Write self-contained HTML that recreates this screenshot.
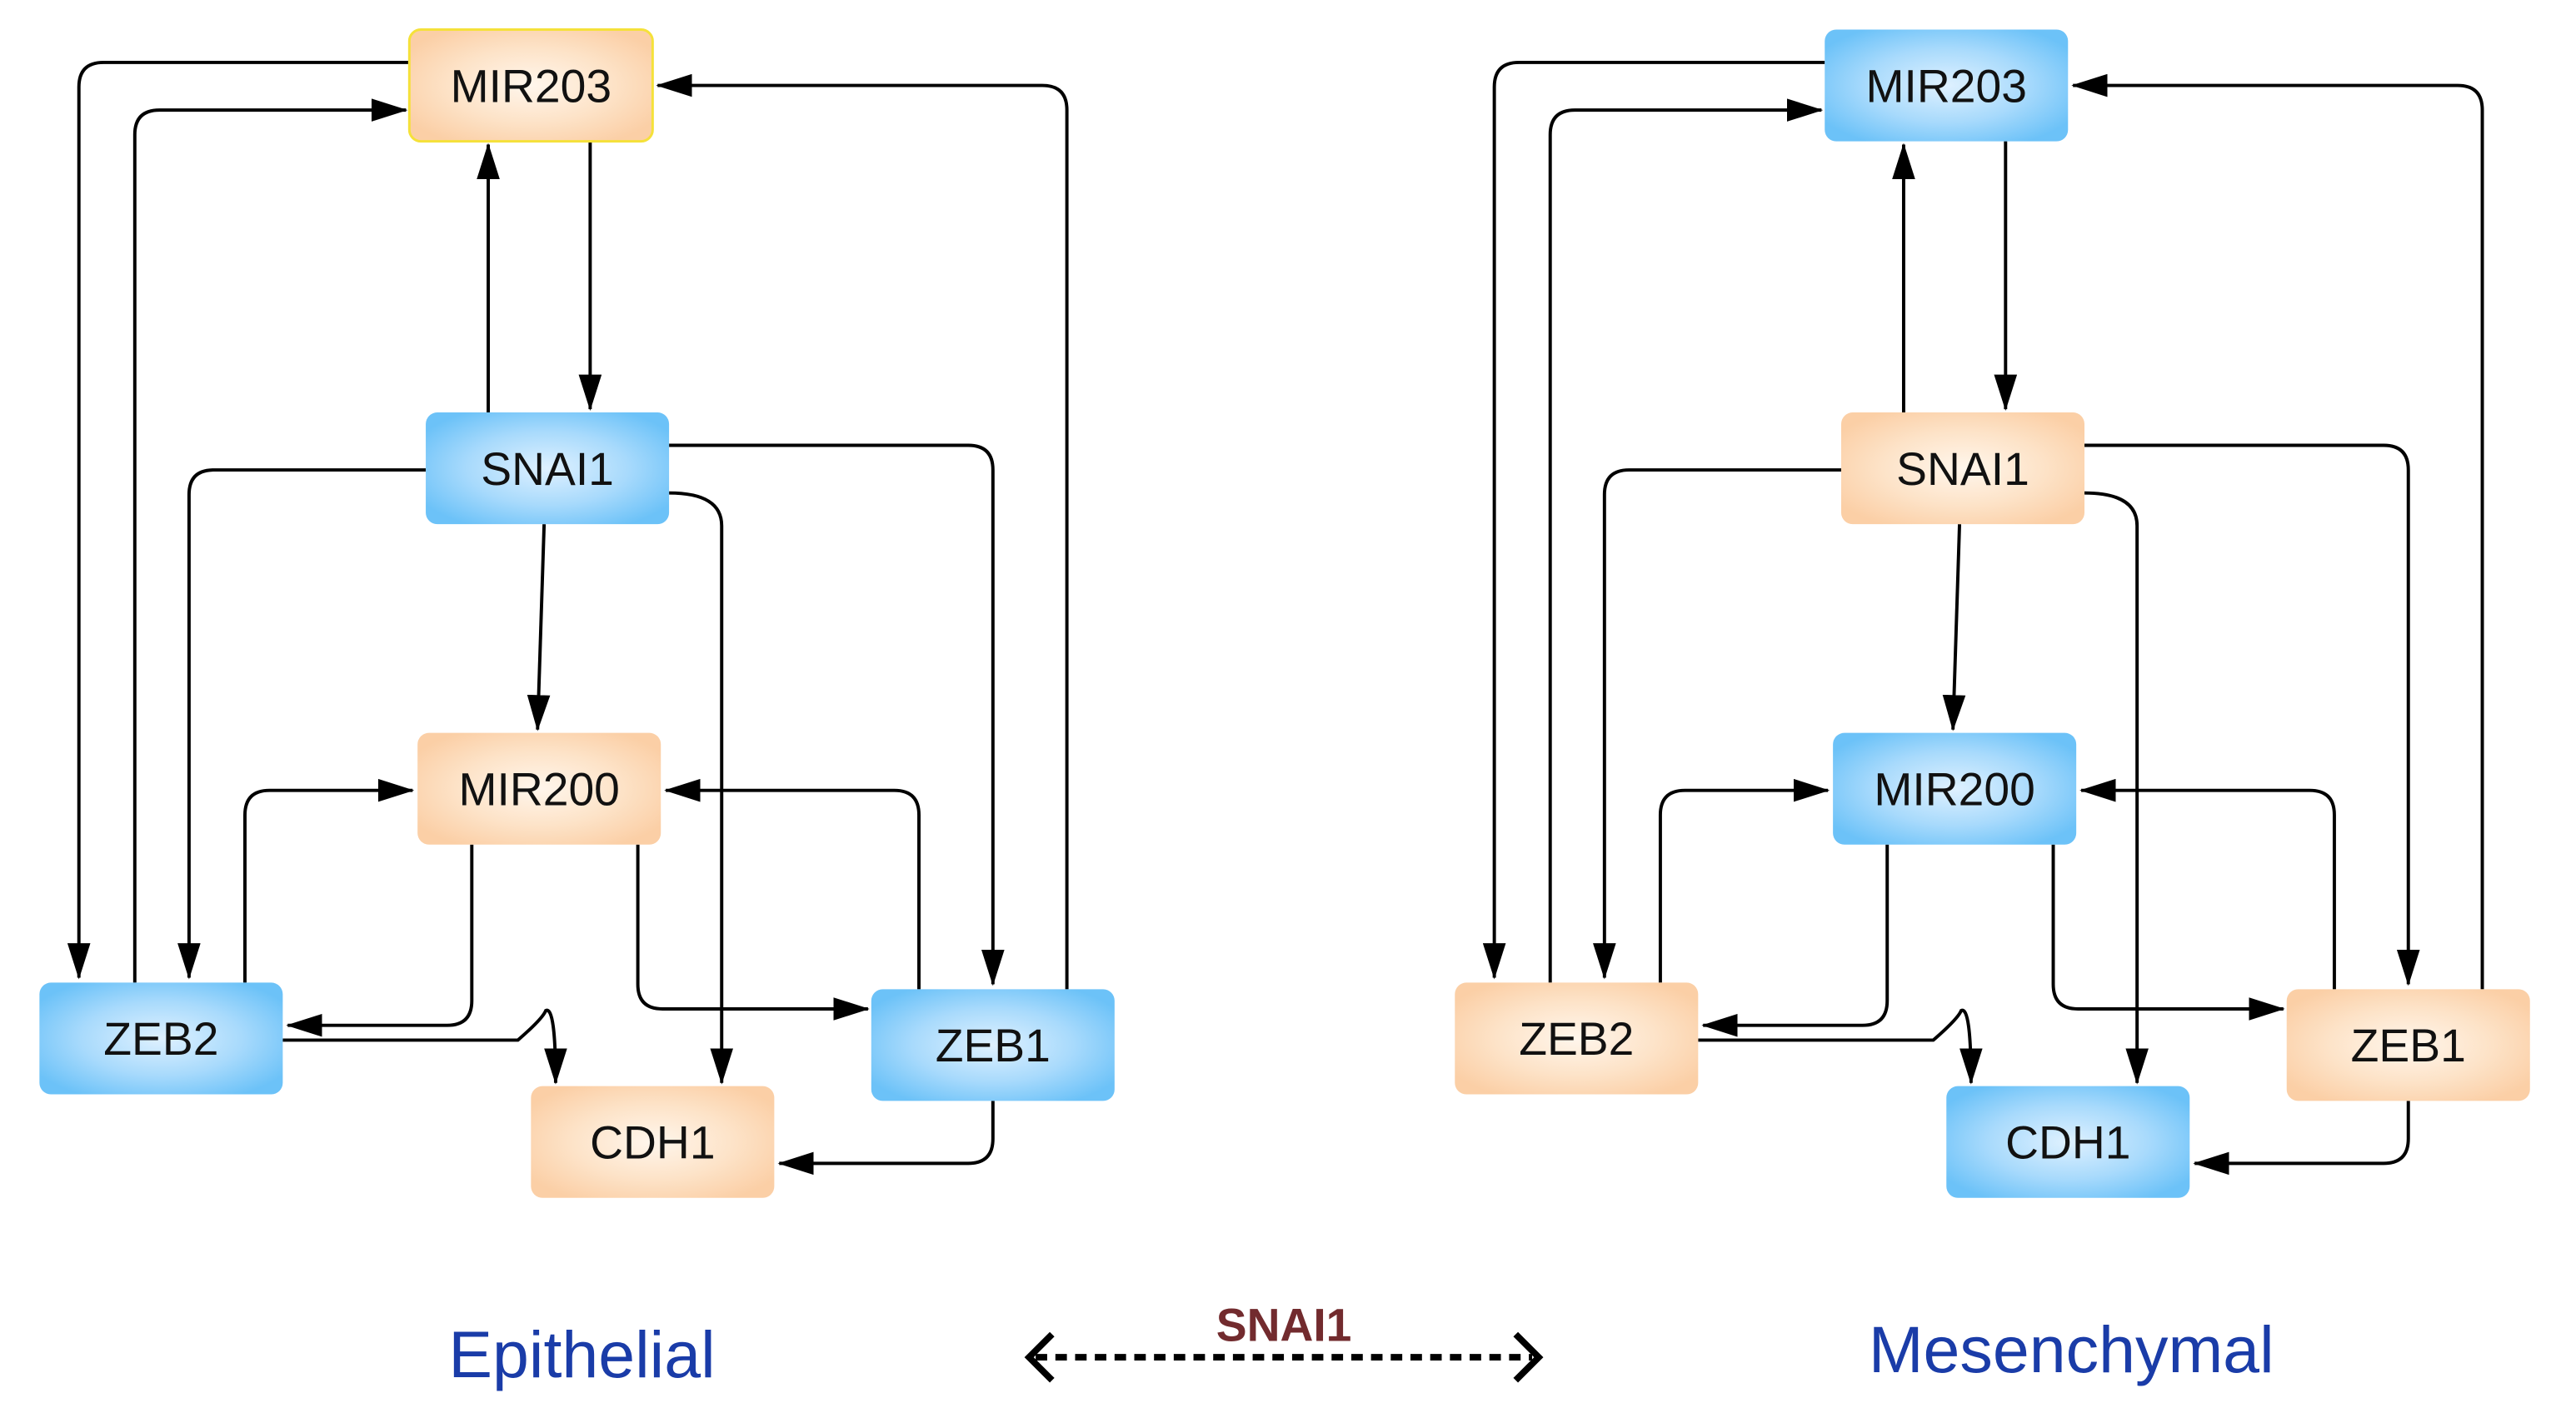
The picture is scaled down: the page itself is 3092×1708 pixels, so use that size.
<!DOCTYPE html>
<html><head><meta charset="utf-8"><style>html,body{margin:0;padding:0;background:#fff}svg{display:block}</style></head>
<body>
<svg width="3092" height="1708" viewBox="0 0 1567 866" preserveAspectRatio="none" xmlns="http://www.w3.org/2000/svg">
<defs>
<radialGradient id="b" cx="50%" cy="50%" r="60%"><stop offset="0" stop-color="#dff1ff"/><stop offset="0.55" stop-color="#a8dafc"/><stop offset="1" stop-color="#6cc2f8"/></radialGradient>
<radialGradient id="o" cx="50%" cy="50%" r="60%"><stop offset="0" stop-color="#fff6ec"/><stop offset="0.55" stop-color="#fde3c8"/><stop offset="1" stop-color="#fbcfa6"/></radialGradient>
<marker id="a" viewBox="0 0 22 14" refX="21" refY="7" markerWidth="22" markerHeight="14" markerUnits="userSpaceOnUse" orient="auto"><path d="M0,0 L22,7 L0,14 z" fill="#000"/></marker>
</defs>
<g fill="none" stroke="#000" stroke-width="2" marker-end="url(#a)">
<path d="M249,38 H63 Q48,38 48,53 V595"/>
<path d="M82,598 V82 Q82,67 97,67 H247"/>
<path d="M649,602 V67 Q649,52 634,52 H400"/>
<path d="M297,251 V88"/>
<path d="M359,86 V249"/>
<path d="M259,286 H130 Q115,286 115,301 V595"/>
<path d="M407,271 H589 Q604,271 604,286 V599"/>
<path d="M407,300 Q439,300 439,320 V659"/>
<path d="M331,319 L327,444"/>
<path d="M149,598 V496 Q149,481 164,481 H251"/>
<path d="M559,602 V496 Q559,481 544,481 H405"/>
<path d="M287,514 V609 Q287,624 272,624 H175"/>
<path d="M388,514 V599 Q388,614 403,614 H528"/>
<path d="M172,633 H315 Q330,620 332,615 Q338,612 338,659"/>
<path d="M604,670 V693 Q604,708 589,708 H474"/>
</g>
<g fill="none" stroke="#000" stroke-width="2" marker-end="url(#a)" transform="translate(861,0)">
<path d="M249,38 H63 Q48,38 48,53 V595"/>
<path d="M82,598 V82 Q82,67 97,67 H247"/>
<path d="M649,602 V67 Q649,52 634,52 H400"/>
<path d="M297,251 V88"/>
<path d="M359,86 V249"/>
<path d="M259,286 H130 Q115,286 115,301 V595"/>
<path d="M407,271 H589 Q604,271 604,286 V599"/>
<path d="M407,300 Q439,300 439,320 V659"/>
<path d="M331,319 L327,444"/>
<path d="M149,598 V496 Q149,481 164,481 H251"/>
<path d="M559,602 V496 Q559,481 544,481 H405"/>
<path d="M287,514 V609 Q287,624 272,624 H175"/>
<path d="M388,514 V599 Q388,614 403,614 H528"/>
<path d="M172,633 H315 Q330,620 332,615 Q338,612 338,659"/>
<path d="M604,670 V693 Q604,708 589,708 H474"/>
</g>
<g font-family="Liberation Sans, sans-serif" font-size="28" text-anchor="middle" fill="#111">
<rect x="249" y="18" width="148" height="68" rx="7" fill="url(#o)" stroke="#f5e13a" stroke-width="1.5"/><text x="323" y="62">MIR203</text>
<rect x="259" y="251" width="148" height="68" rx="7" fill="url(#b)"/><text x="333" y="295">SNAI1</text>
<rect x="254" y="446" width="148" height="68" rx="7" fill="url(#o)"/><text x="328" y="490">MIR200</text>
<rect x="24" y="598" width="148" height="68" rx="7" fill="url(#b)"/><text x="98" y="642">ZEB2</text>
<rect x="530" y="602" width="148" height="68" rx="7" fill="url(#b)"/><text x="604" y="646">ZEB1</text>
<rect x="323" y="661" width="148" height="68" rx="7" fill="url(#o)"/><text x="397" y="705">CDH1</text>

<rect x="1110" y="18" width="148" height="68" rx="7" fill="url(#b)"/><text x="1184" y="62">MIR203</text>
<rect x="1120" y="251" width="148" height="68" rx="7" fill="url(#o)"/><text x="1194" y="295">SNAI1</text>
<rect x="1115" y="446" width="148" height="68" rx="7" fill="url(#b)"/><text x="1189" y="490">MIR200</text>
<rect x="885" y="598" width="148" height="68" rx="7" fill="url(#o)"/><text x="959" y="642">ZEB2</text>
<rect x="1391" y="602" width="148" height="68" rx="7" fill="url(#o)"/><text x="1465" y="646">ZEB1</text>
<rect x="1184" y="661" width="148" height="68" rx="7" fill="url(#b)"/><text x="1258" y="705">CDH1</text>
</g>
<g font-family="Liberation Sans, sans-serif" text-anchor="middle">
<text x="354" y="838" font-size="40" fill="#1a3ca8">Epithelial</text>
<text x="1260" y="835" font-size="40" fill="#1a3ca8">Mesenchymal</text>
<text x="781" y="816" font-size="28" font-weight="bold" fill="#722b2e">SNAI1</text>
</g>
<line x1="630" y1="826" x2="932" y2="826" stroke="#000" stroke-width="4" stroke-dasharray="7,5"/>
<path d="M640,812 L626,826 L640,840" fill="none" stroke="#000" stroke-width="4"/>
<path d="M922,812 L936,826 L922,840" fill="none" stroke="#000" stroke-width="4"/>
</svg>
</body></html>
